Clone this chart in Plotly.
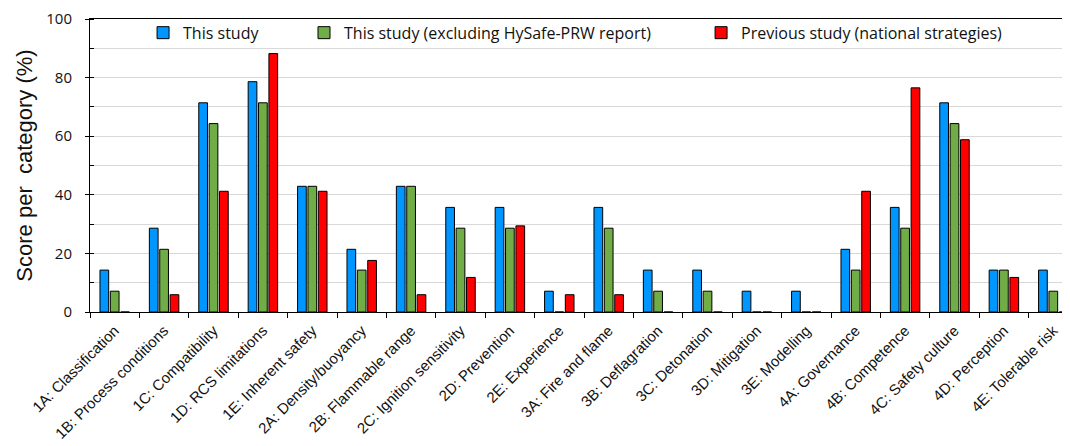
import plotly.graph_objects as go

categories = ["1A: Classification", "1B: Process conditions", "1C: Compatibility",
              "1D: RCS limitations", "1E: Inherent safety", "2A: Density/buoyancy",
              "2B: Flammable range", "2C: Ignition sensitivity", "2D: Prevention",
              "2E: Experience", "3A: Fire and flame", "3B: Deflagration",
              "3C: Detonation", "3D: Mitigation", "3E: Modelling", "4A: Governance",
              "4B: Competence", "4C: Safety culture", "4D: Perception", "4E: Tolerable risk"]

this_study = [14.3, 28.6, 71.4, 78.6, 42.9, 21.4, 42.9, 35.7, 35.7, 7.1,
              35.7, 14.3, 14.3, 7.1, 7.1, 21.4, 35.7, 71.4, 14.3, 14.3]
this_study_excl = [7.1, 21.4, 64.3, 71.4, 42.9, 14.3, 42.9, 28.6, 28.6, 0,
                   28.6, 7.1, 7.1, 0, 0, 14.3, 28.6, 64.3, 14.3, 7.1]
previous_study = [0, 5.9, 41.2, 88.2, 41.2, 17.6, 5.9, 11.8, 29.4, 5.9,
                  5.9, 0, 0, 0, 0, 41.2, 76.5, 58.8, 11.8, 0]

series_names = ["This study", "This study (excluding HySafe-PRW report)",
                "Previous study (national strategies)"]
series_values = [this_study, this_study_excl, previous_study]
series_colors = ["#0096FF", "#70AD47", "#FF0000"]
legend_ids = ["legend", "legend2", "legend3"]

fig = go.Figure()
for name, vals, col, lg in zip(series_names, series_values, series_colors, legend_ids):
    fig.add_trace(go.Bar(x=categories, y=vals, name=name, legend=lg, showlegend=True,
                         marker=dict(color=col, line=dict(color="black", width=1))))

legend_font = dict(family="Open Sans", size=16, color="#111")
def mk_legend(x):
    return dict(x=x, y=0.953, xanchor="left", yanchor="middle", orientation="h",
                bgcolor="rgba(0,0,0,0)", borderwidth=0, font=legend_font)

fig.update_layout(
    width=1070, height=446,
    margin=dict(l=82, r=0, t=8, b=142),
    paper_bgcolor="white", plot_bgcolor="white",
    showlegend=True,
    barmode="group", bargap=0.37, bargroupgap=0.16,
    legend=mk_legend(0.0537),
    legend2=mk_legend(0.2166),
    legend3=mk_legend(0.6185),
    xaxis=dict(
        type="category", range=[-0.5, 19.5],
        showline=True, linecolor="black", linewidth=1, mirror=True,
        ticks="outside", tickson="boundaries", ticklen=5, tickcolor="black",
        tickangle=-45, showgrid=False, ticklabelstandoff=3,
        tickfont=dict(family="Liberation Sans", size=15, color="#111"),
    ),
    yaxis=dict(
        range=[0, 100], dtick=20, tick0=0,
        showline=True, linecolor="black", linewidth=1,
        ticks="outside", ticklen=4, tickcolor="black",
        showgrid=True, gridcolor="#d9d9d9", gridwidth=1, zeroline=False,
        ticklabeloverflow="allow", ticklabelstandoff=10,
        tickfont=dict(family="Open Sans", size=15, color="#111"),
        minor=dict(dtick=10, ticks="inside", ticklen=4, tickcolor="black",
                   showgrid=True, gridcolor="#d9d9d9", gridwidth=1),
        title=dict(text="Score per  category (%)", standoff=7,
                   font=dict(family="Liberation Sans", size=22, color="#111")),
    ),
)

fig.write_html("out.html")
